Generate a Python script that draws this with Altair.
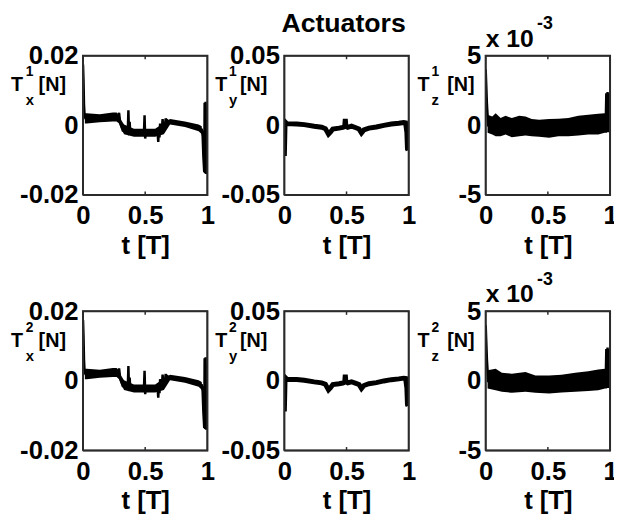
import altair as alt
import pandas as pd

FONT = "Liberation Sans"
W, H = 126, 141

# ---------------- data (t in periods T, torques in N) ----------------
# Panel T_x (actuator 1 and 2 look identical)
TX_T = [0.000, 0.004, 0.008, 0.013, 0.020, 0.060, 0.120, 0.180, 0.240, 0.270,
        0.285, 0.290, 0.300, 0.310, 0.320, 0.335, 0.350, 0.360, 0.365, 0.370,
        0.375, 0.380, 0.400, 0.430, 0.460, 0.490, 0.495, 0.500, 0.505, 0.510,
        0.540, 0.570, 0.600, 0.605, 0.610, 0.615, 0.620, 0.635, 0.640, 0.645,
        0.655, 0.665, 0.670, 0.675, 0.690, 0.720, 0.780, 0.840, 0.900, 0.930,
        0.955, 0.962, 0.968, 0.975, 0.978, 0.982, 0.986, 0.990, 0.995]
TX_V = [0.0175, 0.0130, 0.0060, 0.0025, 0.0020, 0.0019, 0.0021, 0.0023, 0.0025, 0.0027,
        0.0026, 0.0036, 0.0005, -0.0005, -0.0015, -0.0018, -0.0015, -0.0020, 0.0043, -0.0025,
        0.0010, -0.0022, -0.0020, -0.0023, -0.0022, -0.0022, 0.0029, -0.0038, -0.0020, -0.0022,
        -0.0023, -0.0020, -0.0022, -0.0048, -0.0015, -0.0035, 0.0005, -0.0010, 0.0018, -0.0005,
        -0.0015, 0.0020, 0.0000, 0.0015, 0.0011, 0.0009, 0.0005, 0.0001, -0.0004, -0.0008,
        -0.0012, -0.0030, -0.0090, -0.0135, 0.0065, -0.0138, 0.0068, -0.0140, 0.0050]
# noise envelope of T_x
TXB_T = [0.015, 0.030, 0.135, 0.240, 0.270, 0.290, 0.305, 0.330, 0.410, 0.580,
         0.650, 0.700, 0.820, 0.930, 0.955]
TXB_HI = [0.0035, 0.0035, 0.0032, 0.0037, 0.0037, 0.0030, 0.0016, 0.0002, -0.0010, -0.0010,
          0.0007, 0.0018, 0.0011, 0.0002, -0.0003]
TXB_LO = [0.0005, 0.0005, 0.0009, 0.0011, 0.0011, 0.0005, -0.0008, -0.0026, -0.0033, -0.0033,
          -0.0026, 0.0002, -0.0005, -0.0017, -0.0026]

# Panel T_y
TY_T = [0.000, 0.003, 0.006, 0.020, 0.100, 0.160, 0.240, 0.300, 0.330, 0.355,
        0.370, 0.390, 0.440, 0.470, 0.485, 0.490, 0.495, 0.510, 0.540, 0.570,
        0.600, 0.620, 0.640, 0.680, 0.740, 0.800, 0.860, 0.920, 0.960, 0.975,
        0.985, 0.990, 0.995]
TY_V = [-0.0220, -0.0100, 0.0025, 0.0012, 0.0010, 0.0005, -0.0007, -0.0014, -0.0024, -0.0064,
        -0.0050, -0.0026, -0.0020, -0.0015, -0.0010, 0.0045, -0.0005, -0.0014, -0.0006, -0.0016,
        -0.0026, -0.0055, -0.0033, -0.0020, -0.0012, 0.0000, 0.0009, 0.0015, 0.0020, 0.0018,
        -0.0050, -0.0170, -0.0180]

# Panel T_z (spikes at both ends)
TZ_T = [0.000, 0.004, 0.010, 0.020, 0.965, 0.970, 0.975, 0.980, 0.985, 0.990, 0.995, 1.000]
TZ_V = [0.0040, 0.0030, 0.0015, 0.0000, 0.0000, 0.0023, -0.0005, 0.0024, -0.0005, 0.0023, -0.0005, 0.0022]
# noise band of T_z, actuator 1
TZB1_T = [0.015, 0.053, 0.080, 0.120, 0.160, 0.210, 0.270, 0.320, 0.370, 0.430,
          0.510, 0.585, 0.665, 0.745, 0.825, 0.905, 0.957, 0.975]
TZB1_HI = [0.00076, 0.00064, 0.00087, 0.00052, 0.00069, 0.00052, 0.00069, 0.00064, 0.00045, 0.00040,
           0.00045, 0.00047, 0.00052, 0.00069, 0.00076, 0.00083, 0.00087, 0.00076]
TZB1_LO = [-0.00054, -0.00066, -0.00078, -0.00078, -0.00066, -0.00085, -0.00078, -0.00073, -0.00078, -0.00083,
           -0.00090, -0.00078, -0.00078, -0.00073, -0.00066, -0.00066, -0.00054, -0.00054]
# noise band of T_z, actuator 2
TZB2_T = [0.015, 0.080, 0.130, 0.210, 0.320, 0.400, 0.510, 0.610, 0.720, 0.825, 0.905, 0.960, 0.975]
TZB2_HI = [0.00076, 0.00087, 0.00059, 0.00052, 0.00064, 0.00040, 0.00040, 0.00045, 0.00059, 0.00069,
           0.00083, 0.00087, 0.00076]
TZB2_LO = [-0.00054, -0.00066, -0.00078, -0.00085, -0.00078, -0.00085, -0.00090, -0.00083, -0.00078,
           -0.00073, -0.00066, -0.00054, -0.00054]

X_TICKS = [0, 0.5, 1]
LIM = [0.02, 0.05, 0.005]
Y_TICKS = [[-0.02, 0, 0.02], [-0.05, 0, 0.05], [-0.005, 0, 0.005]]
COMP = ["x", "y", "z"]

ONE = pd.DataFrame({"k": [0]})
MINUS = "\u2212"
FRAME = "#2b2b2b"


def text_layer(s, x, y, size, weight="bold", align="left"):
    return alt.Chart(ONE).mark_text(
        text=s, font=FONT, fontSize=size, fontWeight=weight, align=align,
        baseline="alphabetic", color="black"
    ).encode(x=alt.value(x), y=alt.value(y))


# label x-offsets per column: T, sup/sub, [N]
LBL_X = [(-73, -58, -45), (-70, -56, -45), (-69, -55, -39)]


def panel(col, actuator, lt, lv, lw, bt=None, bhi=None, blo=None, title=None):
    lim = LIM[col]
    k = 1000 if col == 2 else 1
    xs = alt.Scale(domain=[0, 1], nice=False, zero=False)
    ys = alt.Scale(domain=[-lim, lim], nice=False, zero=False)
    xax = alt.Axis(values=X_TICKS, format="~g", title="t [T]")
    yax = alt.Axis(values=Y_TICKS[col], title=None,
                   labelExpr=f"replace(format(datum.value * {k}, '~g'), '{MINUS}', '-')")
    layers = []
    if bt is not None:
        bdf = pd.DataFrame({"t": bt, "hi": bhi, "lo": blo})
        layers.append(alt.Chart(bdf).mark_area(color="black", clip=True).encode(
            x=alt.X("t:Q", scale=xs, axis=xax),
            y=alt.Y("hi:Q", scale=ys, axis=yax),
            y2="lo:Q"))
    ldf = pd.DataFrame({"t": lt, "v": lv})
    layers.append(alt.Chart(ldf).mark_line(color="black", strokeWidth=lw, clip=True).encode(
        x=alt.X("t:Q", scale=xs, axis=xax),
        y=alt.Y("v:Q", scale=ys, axis=yax)))
    # axes box: closed path through the four corners of the axis limits
    box = pd.DataFrame({"t": [0, 1, 1, 0, 0], "v": [-lim, -lim, lim, lim, -lim],
                        "i": [0, 1, 2, 3, 4]})
    layers.append(alt.Chart(box).mark_line(color=FRAME, strokeWidth=2).encode(
        x=alt.X("t:Q", scale=xs, axis=xax),
        y=alt.Y("v:Q", scale=ys, axis=yax),
        order="i:Q"))
    # inward MATLAB-like ticks at t = 0.5
    tick = pd.DataFrame({"t": [0.5, 0.5], "v": [lim, lim * 0.95]})
    layers.append(alt.Chart(tick).mark_line(color=FRAME, strokeWidth=1.5).encode(
        x=alt.X("t:Q", scale=xs, axis=xax), y=alt.Y("v:Q", scale=ys, axis=yax)))
    tick2 = pd.DataFrame({"t": [0.5, 0.5], "v": [-lim, -lim * 0.95]})
    layers.append(alt.Chart(tick2).mark_line(color=FRAME, strokeWidth=1.5).encode(
        x=alt.X("t:Q", scale=xs, axis=xax), y=alt.Y("v:Q", scale=ys, axis=yax)))
    # y label  T^a_c [N]
    tx, sx, nx = LBL_X[col]
    layers.append(text_layer("T", tx, 36, 20))
    layers.append(text_layer(str(actuator), sx, 21, 14))
    layers.append(text_layer(COMP[col], sx, 50, 15))
    layers.append(text_layer("[N]", nx, 36, 20))
    if col == 2:
        layers.append(text_layer("x 10", 0, -9, 25))
        layers.append(text_layer("-3", 52, -27, 18))
    if title:
        layers.append(text_layer(title, W / 2 - 3, -24, 27, align="center"))
    return alt.layer(*layers).properties(width=W, height=H)


panels = [
    panel(0, 1, TX_T, TX_V, 2.5, TXB_T, TXB_HI, TXB_LO),
    panel(1, 1, TY_T, TY_V, 5, title="Actuators"),
    panel(2, 1, TZ_T, TZ_V, 2.5, TZB1_T, TZB1_HI, TZB1_LO),
    panel(0, 2, TX_T, TX_V, 2.5, TXB_T, TXB_HI, TXB_LO),
    panel(1, 2, TY_T, TY_V, 5),
    panel(2, 2, TZ_T, TZ_V, 2.5, TZB2_T, TZB2_HI, TZB2_LO),
]

chart = alt.concat(
    *panels, columns=3, spacing={"row": 118, "column": 78}, bounds="flush"
).properties(
    padding={"left": 2, "top": -2, "right": -4, "bottom": 0}
).configure_view(
    stroke=FRAME, strokeWidth=1.5
).configure_axis(
    labelFont=FONT, labelFontSize=26, labelFontWeight="bold", labelColor="black",
    titleFont=FONT, titleFontSize=26, titleFontWeight="bold", titleColor="black",
    domain=False, ticks=False, tickSize=0, grid=False,
    labelFlush=False, labelOverlap=False, labelBound=False
).configure_axisX(
    labelPadding=8, titlePadding=4
).configure_axisY(
    labelPadding=5
)

chart.save("out.html", embed_options={"renderer": "svg", "actions": False})
